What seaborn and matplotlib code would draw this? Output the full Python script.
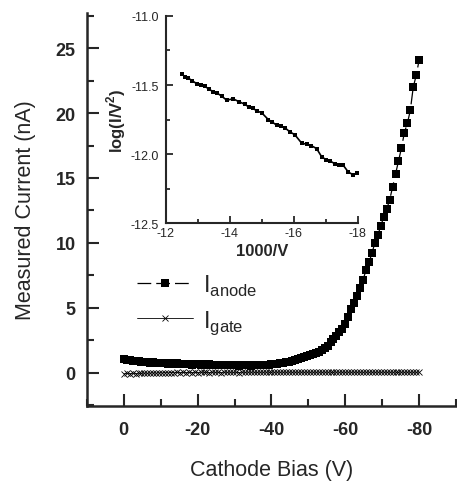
import numpy as np
import seaborn as sns
import matplotlib.pyplot as plt
from matplotlib.ticker import MultipleLocator, FormatStrFormatter

# cathode bias sweep (V)
bias = [0.0, -0.8, -1.6, -2.4, -3.2, -4.0, -4.8, -5.6, -6.4, -7.2,
        -8.0, -8.8, -9.6, -10.4, -11.2, -12.0, -12.8, -13.6, -14.4, -15.2,
        -16.0, -16.8, -17.6, -18.4, -19.2, -20.0, -20.8, -21.6, -22.4, -23.2,
        -24.0, -24.8, -25.6, -26.4, -27.2, -28.0, -28.8, -29.6, -30.4, -31.2,
        -32.0, -32.8, -33.6, -34.4, -35.2, -36.0, -36.8, -37.6, -38.4, -39.2,
        -40.0, -40.8, -41.6, -42.4, -43.2, -44.0, -44.8, -45.6, -46.4, -47.2,
        -48.0, -48.8, -49.6, -50.4, -51.2, -52.0, -52.8, -53.6, -54.4, -55.2,
        -56.0, -56.8, -57.6, -58.4, -59.2, -60.0, -60.8, -61.6, -62.4, -63.2,
        -64.0, -64.8, -65.6, -66.4, -67.2, -68.0, -68.8, -69.6, -70.4, -71.2,
        -72.0, -72.8, -73.6, -74.4, -75.2, -76.0, -76.8, -77.6, -78.4, -79.2,
        -80.0]

# anode current (nA)
i_anode = [1.05, 0.95, 1.00, 0.90, 0.88, 0.92, 0.85, 0.80, 0.86, 0.78,
           0.80, 0.74, 0.78, 0.72, 0.76, 0.70, 0.74, 0.68, 0.72, 0.66,
           0.70, 0.65, 0.69, 0.63, 0.67, 0.64, 0.60, 0.66, 0.61, 0.64,
           0.60, 0.63, 0.59, 0.62, 0.58, 0.61, 0.57, 0.60, 0.58, 0.56,
           0.60, 0.57, 0.59, 0.56, 0.60, 0.58, 0.60, 0.59, 0.62, 0.60,
           0.64, 0.66, 0.68, 0.72, 0.76, 0.80, 0.85, 0.90, 0.98, 1.05,
           1.12, 1.20, 1.28, 1.36, 1.45, 1.52, 1.62, 1.72, 1.88, 2.10,
           2.35, 2.60, 2.85, 3.15, 3.40, 3.75, 4.30, 4.90, 5.40, 5.90,
           6.55, 7.15, 7.90, 8.50, 9.20, 10.0, 10.6, 11.3, 12.0, 12.6,
           13.3, 14.3, 15.3, 16.3, 17.3, 18.5, 19.2, 20.2, 22.0, 22.9,
           24.1]

# gate current (nA)
i_gate = [-0.08, -0.05, -0.07, -0.04, -0.06, -0.03, -0.05, -0.02, -0.04, -0.02,
          -0.01, -0.03, 0.00, -0.02, 0.01, -0.01, 0.02, 0.00, 0.03, 0.01,
          0.03, 0.01, 0.04, 0.02, 0.04, 0.02, 0.05, 0.03, 0.04, 0.02,
          0.05, 0.03, 0.04, 0.02, 0.05, 0.03, 0.05, 0.03, 0.04, 0.02,
          0.05, 0.03, 0.05, 0.04, 0.05, 0.03, 0.05, 0.04, 0.05, 0.04,
          0.05, 0.04, 0.05, 0.04, 0.05, 0.04, 0.05, 0.04, 0.05, 0.04,
          0.05, 0.04, 0.05, 0.04, 0.05, 0.04, 0.05, 0.04, 0.05, 0.04,
          0.05, 0.04, 0.05, 0.04, 0.05, 0.04, 0.05, 0.04, 0.05, 0.04,
          0.05, 0.04, 0.05, 0.04, 0.05, 0.04, 0.05, 0.04, 0.05, 0.04,
          0.05, 0.04, 0.05, 0.04, 0.05, 0.04, 0.05, 0.04, 0.05, 0.04,
          0.05]

# Fowler-Nordheim inset
fn_x = [-12.49, -12.60, -12.70, -12.83, -12.96, -13.09, -13.22, -13.35, -13.48, -13.61,
        -13.74, -13.90, -14.10, -14.28, -14.47, -14.60, -14.73, -14.86, -14.99, -15.20,
        -15.33, -15.46, -15.59, -15.72, -15.88, -16.03, -16.24, -16.40, -16.55, -16.71,
        -16.87, -17.00, -17.13, -17.28, -17.41, -17.54, -17.70, -17.85, -17.96]
fn_y = [-11.42, -11.44, -11.45, -11.47, -11.49, -11.50, -11.51, -11.53, -11.55, -11.56,
        -11.58, -11.61, -11.60, -11.62, -11.64, -11.66, -11.67, -11.69, -11.70, -11.75,
        -11.77, -11.79, -11.80, -11.81, -11.84, -11.86, -11.92, -11.93, -11.94, -11.96,
        -12.02, -12.04, -12.05, -12.07, -12.08, -12.08, -12.13, -12.15, -12.14]

sns.set_style('ticks')
plt.rcParams['font.family'] = ['Liberation Sans', 'DejaVu Sans']
plt.rcParams['axes.unicode_minus'] = False
plt.rcParams['mathtext.fontset'] = 'custom'
plt.rcParams['mathtext.rm'] = 'Liberation Sans'
plt.rcParams['mathtext.bf'] = 'Liberation Sans:bold'

fig = plt.figure(figsize=(4.57, 4.85), dpi=100)
ax = fig.add_axes([0.190, 0.161, 0.808, 0.810])

sns.lineplot(x=bias, y=i_anode, ax=ax, color='black', marker='s', markersize=5.5,
             markeredgewidth=0, linewidth=0.9, linestyle=(0, (11, 4)),
             estimator=None, sort=False, label=r'I$_{\mathregular{anode}}$')
sns.lineplot(x=bias, y=i_gate, ax=ax, color='black', marker='x', markersize=4,
             markeredgewidth=0.6, markeredgecolor='black', linewidth=0.6,
             estimator=None, sort=False, label=r'I$_{\mathregular{gate}}$')

ax.set_xlim(10, -90)
ax.set_ylim(-2.55, 27.7)
ax.xaxis.set_major_locator(MultipleLocator(20))
ax.xaxis.set_minor_locator(MultipleLocator(10))
ax.yaxis.set_major_locator(MultipleLocator(5))
ax.yaxis.set_minor_locator(MultipleLocator(2.5))
ax.set_xticks([0, -20, -40, -60, -80])
ax.tick_params(which='major', direction='in', length=8.5, width=1.5, labelsize=13, pad=11)
ax.tick_params(axis='y', which='major', pad=8)
ax.tick_params(which='minor', direction='in', length=5, width=1.5)
for t in ax.get_xticklabels() + ax.get_yticklabels():
    t.set_fontweight('bold')
for s in ['left', 'bottom']:
    ax.spines[s].set_linewidth(1.8)
sns.despine(ax=ax)
ax.set_xlabel('Cathode Bias (V)', fontsize=15.5, labelpad=15)
ax.set_ylabel('Measured Current (nA)', fontsize=15.5, labelpad=14)

ax.legend(loc='upper left', bbox_to_anchor=(0.135, 0.34), frameon=False,
          fontsize=17, handlelength=2.4, handletextpad=0.4, labelspacing=0.45,
          borderpad=0, borderaxespad=0, numpoints=1)

# inset
ins = fig.add_axes([0.363, 0.538, 0.420, 0.427])
sns.lineplot(x=fn_x, y=fn_y, ax=ins, color='black', marker='s', markersize=3,
             markeredgewidth=0, linewidth=1.2, estimator=None, sort=False)
ins.set_xlim(-12, -18)
ins.set_ylim(-12.5, -11.0)
ins.xaxis.set_major_locator(MultipleLocator(2))
ins.xaxis.set_minor_locator(MultipleLocator(1))
ins.yaxis.set_major_locator(MultipleLocator(0.5))
ins.yaxis.set_minor_locator(MultipleLocator(0.25))
ins.yaxis.set_major_formatter(FormatStrFormatter('%.1f'))
ins.tick_params(which='major', direction='in', length=5, width=1.3, labelsize=9, pad=2.5)
ins.tick_params(which='minor', direction='in', length=3, width=1.3)
ins.tick_params(axis='y', which='major', pad=5)
for s in ['left', 'bottom']:
    ins.spines[s].set_linewidth(1.5)
sns.despine(ax=ins)
ins.set_facecolor('none')
ins.set_xlabel('1000/V', fontsize=12, fontweight='bold', labelpad=3)
ins.set_ylabel(r'log(I/V$^{\mathbf{2}}$)', fontsize=12, fontweight='bold', labelpad=2)

fig.savefig('out.png', dpi=100)
